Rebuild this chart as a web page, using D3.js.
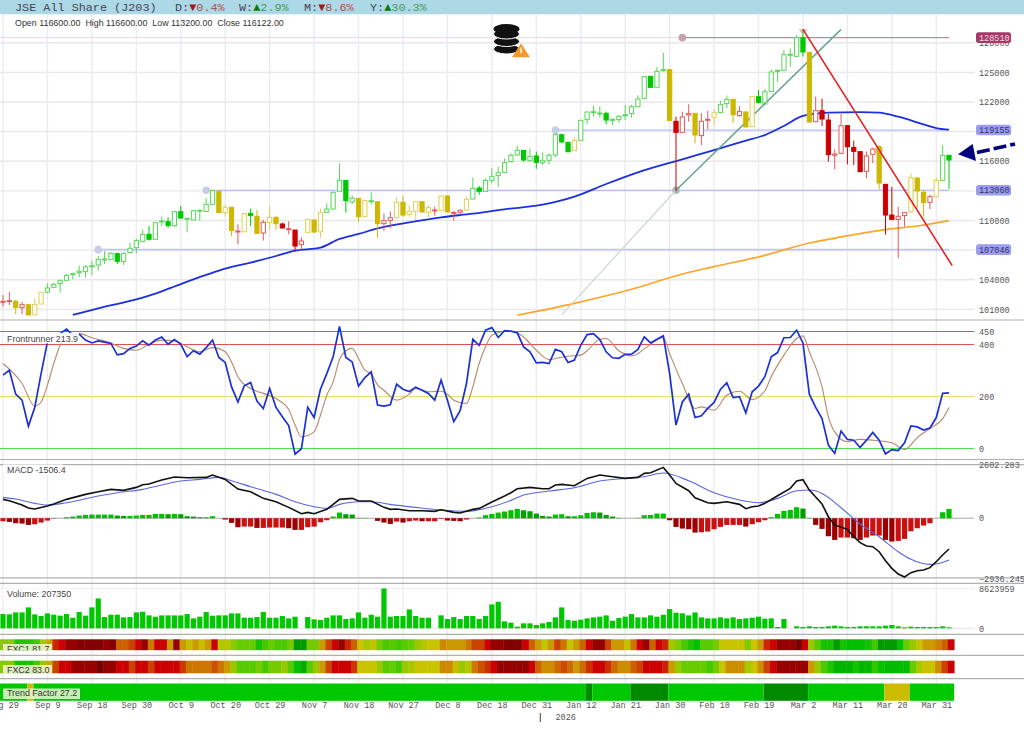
<!DOCTYPE html>
<html>
<head>
<meta charset="utf-8">
<script src="https://cdn.jsdelivr.net/npm/d3@7"></script>
<style>
  html, body { margin: 0; padding: 0; background: #fff; }
  svg { display: block; }
  .mono { font-family: "Liberation Mono", monospace; }
  .sans { font-family: "Liberation Sans", Arial, sans-serif; }
  .axis-label text { font-family: "Liberation Mono", monospace; font-size: 8.5px; fill: #555; }
  .axis-label .domain { display: none; }
</style>
</head>
<body>
<div id="chart"></div>
<script>
const width = 1024;
const height = 735;

// daily bars, oldest first
const highs = [102450,102760,101950,101780,101540,102110,102720,103630,103700,104040,
  104580,104710,105420,105490,105890,106400,106910,106770,106740,106770,
  107750,108160,109100,109440,109810,110380,110320,110960,111470,110220,
  111060,111060,112240,113090,113020,111570,111330,109610,110720,111200,
  111060,110050,111500,110380,109780,109910,109030,108290,110220,110050,
  111230,111730,112920,115790,114060,112540,112270,112070,112850,111940,
  110720,110890,112340,112510,111500,111940,111940,111570,111400,112510,
  112510,110920,111130,112410,114340,113490,114270,115280,115450,116290,
  116800,117570,117130,117270,116970,116870,116800,118820,118720,117980,
  118420,120140,121020,121630,121560,121020,120340,120680,121690,121690,
  122670,124630,124630,125540,126990,125300,120510,121020,121760,120850,
  120850,121090,121290,122130,122640,122270,121560,121020,122570,123210,
  123310,125300,125270,127260,127430,128780,129350,127060,122540,122330,
  120780,117200,120780,119630,118080,117000,116970,117370,117610,113690,
  113390,111400,110860,114770,114340,113090,112610,114340,117640,116600];
const lows = [101270,101440,100530,100500,100430,100430,101540,102620,103130,102690,
  103900,104040,104240,104210,104480,104920,105590,106000,105590,105490,
  106670,106670,107790,107960,108090,109440,109270,109370,110150,108800,
  110050,109980,110820,111600,110720,110380,108430,107580,108800,109440,
  108700,107960,109030,109030,109170,108600,106840,107080,108800,108760,
  108220,110790,111130,112950,110790,111670,109880,110380,111630,108220,
  108930,109200,110220,110380,110380,110050,110820,110150,110490,110960,
  110820,109980,110590,110990,112140,112610,112920,113760,113420,114840,
  115850,116600,115960,115960,115240,115620,115650,116390,117810,116870,
  117070,118080,119770,120510,120410,119730,119670,119900,120170,120410,
  121460,122370,123410,123450,125070,120110,112920,118890,120000,117810,
  117640,119230,119600,120850,121360,119900,120510,119400,119470,121860,
  121860,123010,124060,125170,125570,126590,126590,119940,120000,119570,
  115960,115180,116730,115680,115620,114910,114270,115790,113120,108560,
  110110,106170,109370,110790,111230,110380,111160,112380,114030,113200];
const opens = [101740,101810,101810,101170,101470,100430,101540,102750,103230,103600,
  103940,104510,104710,104820,105390,105490,106030,106030,106640,105830,
  106740,107250,107890,108600,108090,109850,109880,109470,110890,110120,
  110050,110960,110920,111630,112950,110790,111330,108860,108860,110720,
  110420,108730,109810,110320,109640,109100,109030,107580,108800,110050,
  108860,110820,111160,112950,114060,111870,112240,110380,111940,111900,
  109680,110010,110280,111840,110620,110920,111900,110820,110990,110990,
  112480,110750,110820,111060,112170,113290,112950,114060,114540,114870,
  115960,116630,117100,116050,116530,115850,116090,116630,118690,117910,
  117070,118110,120210,120920,120820,120850,120170,120210,120610,120820,
  121520,122370,124600,123480,125170,125270,120040,118920,120680,120850,
  118590,120140,120440,120920,121830,122270,120610,120980,119500,122540,
  121960,123040,125100,125200,126720,126620,128480,127030,120000,121120,
  120170,116600,116800,119600,117400,116970,114970,116700,117470,113660,
  110550,110110,110490,110860,114300,112850,111840,112410,114060,116600];
const closes = [101810,101880,101170,101470,100430,101500,102720,103160,103530,103900,
  104440,104610,104850,105290,105420,106060,106100,106670,105860,106670,
  107180,107960,108600,108090,109780,109950,109470,110890,110250,110220,
  110990,111030,111630,113020,110790,111300,108970,108930,110690,110490,
  108700,109810,110320,109680,109240,109170,107410,107920,110080,108830,
  110790,111160,112850,114060,112000,112240,110380,112000,112000,109680,
  109980,110280,111840,110550,110920,111900,110860,111300,111060,112480,
  110860,110820,111030,112140,113250,112950,114060,114440,114840,115850,
  116600,117100,116120,116490,115890,116050,116600,118720,117950,116970,
  118110,120140,120980,121020,120880,120170,120240,120540,120710,121520,
  122300,124560,123480,125100,125270,120110,118920,120480,120820,118650,
  120040,120240,120920,121730,122270,120710,121020,119470,122540,121960,
  123040,125030,125200,126790,126820,128510,127060,119970,121120,120270,
  116660,116730,119600,117470,117000,114940,116530,117240,113790,110550,
  110110,110420,110790,114340,112990,111800,112410,114060,116600,116122];
const barColors = ("rryryyyggg" + "gggggggggg" + "gggggggggg" + "ggggyyyryg" + "yryyrrrryy" +
  "ygggggyygy" + "rryyyyyyry" + "yrrygggggg" + "gggggggggg" + "yggggggggg" +
  "gggggyrrry" + "rryggyryyg" + "gggggggyrr" + "rrrrrrrryr" + "rrryyyrygg").split("");

const priceTicks = [101000,104000,107000,110000,113000,116000,119000,122000,125000,128000];
const levels = [128510,119155,113060,107046];
const levelStartBar = [107,87,32,15];

// 50 and 200 day averages, read at these bars
const maFastBars = [11,15,21,24,28,32,35,39,43,46,50,53,56,59,64,69,74,79,85,90,95,100,107,112,117,120,123,126,130,135,138,141,145,147,149];
const maFastVals = [100430,101100,102010,102590,103560,104480,105120,105730,106400,106940,107250,108130,108630,109200,109810,110320,110690,111130,111600,112410,113690,114870,116190,117130,118080,118650,119570,120580,120920,120980,120920,120510,119730,119360,119190];
const maSlowBars = [81,90,99,107,112,120,127,132,139,144,149];
const maSlowVals = [100400,101610,103030,104580,105320,106470,107720,108330,109070,109440,109980];

// trend lines as [bar, price] pairs
const trendGreen = [[106,113060],[132,129350]];
const trendGrey = [[88,100430],[106,113060]];
const trendRed = [[126,129350],[149.5,105430]];
const pivotBars = [15,32,87,107,106,120,138,126];
const pivotPrices = [107046,113060,119155,128510,113060,122000,117100,129350];
const pivotColors = ["#c9cbe8","#c9cbe8","#c9cbe8","#c9a0b0","#a9bdbd","#d8e0d8","#f0d0c8","#f0c0c0"];

const frontrunner = [282,301,209,186,86,158,288,410,429,442,
  459,436,440,417,406,414,409,404,360,365,
  385,394,414,397,417,429,401,419,401,353,
  376,363,388,417,350,331,237,179,241,254,
  182,154,231,158,122,88,-22,-1,158,119,
  228,288,353,470,350,333,240,273,295,167,
  163,168,247,228,219,236,224,212,186,263,
  186,103,145,250,420,397,455,465,427,453,
  451,445,391,372,329,331,327,381,372,331,
  340,397,438,442,419,372,349,347,362,363,
  381,429,406,420,433,288,90,179,209,119,
  126,154,177,227,253,196,199,137,218,240,
  276,353,369,426,427,455,406,209,158,115,
  13,-19,67,35,32,4,32,62,32,-21,
  -4,-8,22,87,83,71,79,119,212,214];
const frBrownBars = [0,3,5,6,7,8,9,10,12,14,17,19,21,23,25,27,29,31,33,35,36,37,39,41,43,45,46,47,49,50,51,52,53,54,55,56,57,58,59,60,62,64,65,67,69,70,71,73,74,75,76,77,80,82,84,86,87,89,91,92,94,95,97,99,100,102,104,105,107,109,110,112,114,116,118,120,121,123,125,126,127,129,130,131,133,135,137,140,142,144,146,148,149];
const frBrownVals = [327,250,163,179,244,327,397,433,442,426,406,385,378,401,417,414,391,372,388,372,333,276,231,212,192,150,90,45,64,128,205,256,342,376,385,346,301,288,244,224,186,209,231,218,220,209,186,173,237,327,391,436,453,429,378,342,346,355,359,376,420,423,376,356,365,401,427,365,250,154,160,147,205,220,188,222,276,359,423,433,372,237,122,64,26,35,32,22,-4,42,77,115,158];
const frLevels = [450,400,200,0];
const frLevelColors = ["#e25050","#e25050","#ecdc6a","#55dd55"];

const macdBars = [0,1,3,4,5,7,8,10,13,15,17,19,21,22,23,25,27,29,32,33,35,37,39,41,43,45,47,48,49,51,53,55,56,58,60,61,62,64,66,68,69,71,72,74,75,77,79,80,81,83,85,86,87,88,90,92,94,96,98,100,101,102,104,105,106,108,109,111,112,114,116,117,118,119,120,122,124,125,126,127,129,130,131,133,134,135,136,137,138,139,140,141,142,143,144,145,146,147,148,149];
const macdVals = [922,857,645,498,450,596,694,922,1166,1297,1411,1362,1508,1639,1671,1867,2013,1981,1997,2111,1899,1427,1297,971,808,531,222,287,222,433,922,971,841,841,531,433,450,368,368,336,417,287,254,433,482,792,1085,1248,1443,1508,1443,1443,1622,1655,1590,1948,2111,2030,1948,1997,2193,2225,2486,2111,1704,1346,1003,759,727,808,678,466,564,596,727,1101,1460,1818,1883,1378,694,75,-332,-544,-902,-1196,-1359,-1391,-1636,-2075,-2450,-2727,-2874,-2662,-2564,-2531,-2417,-2124,-1798,-1506];
const signalBars = [0,2,5,7,10,15,18,22,25,28,31,34,36,39,43,46,49,51,53,56,58,61,65,69,73,77,80,82,86,90,94,98,101,104,108,112,116,119,122,125,127,129,132,135,138,141,143,146,147,149];
const signalVals = [1020,938,727,645,759,1085,1248,1411,1622,1818,1899,1997,1834,1541,1166,808,564,482,678,808,808,678,531,401,336,564,873,1134,1329,1492,1818,1948,2030,2209,1834,1248,889,759,971,1346,1378,1215,515,-283,-902,-1636,-2010,-2254,-2238,-2043];
const macdHist = [-147,-179,-245,-261,-326,-293,-212,-114,-16,0,
  49,82,130,163,179,179,179,179,130,114,
  114,130,163,163,212,212,196,212,196,98,
  82,49,49,98,0,-65,-228,-440,-408,-408,
  -473,-473,-456,-456,-456,-489,-571,-571,-440,-408,
  -196,-98,82,277,196,179,16,16,0,-130,
  -212,-277,-163,-212,-147,-114,-147,-147,-147,-33,
  -114,-130,-147,-65,0,33,147,212,277,326,
  391,456,391,342,228,114,82,179,196,98,
  98,147,261,293,277,163,82,16,0,0,
  16,147,163,228,228,-98,-424,-505,-538,-701,
  -685,-652,-538,-424,-326,-326,-326,-408,-293,-196,
  -98,49,212,359,408,538,473,16,-326,-522,
  -880,-1060,-945,-945,-978,-1060,-945,-848,-848,-1060,
  -1141,-1108,-1011,-636,-489,-359,-245,0,293,456];

const volumes = [3090200,3018400,3449600,3449600,4527600,3018400,2659000,3234000,2946500,2730900,
  3090200,2299700,3521400,2730900,4527600,6467900,2443400,2946500,2946500,2371600,
  2443400,3449600,3593300,2802800,2515300,2802800,2802800,2802800,2802800,3090200,
  2156000,2515300,3521400,2730900,2802800,2802800,3234000,3234000,2299700,2299700,
  2443400,3521400,2299700,2299700,2659000,2156000,2515300,0,2443400,1940400,
  1796700,2299700,2802800,2802800,2012200,2156000,3449600,2299700,2946500,2515300,
  8623959,2515300,2659000,2659000,4096400,2659000,2299700,2299700,0,2802800,
  2012200,2443400,2012200,2659000,2659000,2012200,2659000,5174400,5749300,1509200,
  1221700,359300,1078000,1078000,718700,1078000,1365500,2371600,4527600,1796700,
  1652900,1868500,2156000,2371600,2515300,2802800,1652900,2227800,2515300,3090200,
  2371600,2371600,2802800,2515300,2946500,4168200,3377700,3234000,2802800,3449600,
  2371600,2156000,2156000,2371600,2156000,2371600,2012200,2156000,2299700,2515300,
  2084100,2156000,287500,2012200,0,431200,287500,431200,287500,287500,
  431200,574900,431200,287500,287500,431200,431200,431200,431200,574900,
  718700,431200,215600,359300,287500,287500,287500,287500,431200,207350];

// heat strips: low is green, high is dark red
const fxc1 = [35,35,20,20,20,25,40,50,74,82,
  93,93,97,97,97,97,93,97,62,62,
  68,82,93,58,82,82,52,93,52,46,
  52,46,52,82,42,42,36,30,30,30,
  18,25,30,26,26,32,5,5,32,32,
  52,68,82,93,74,62,45,40,44,32,
  26,28,25,28,30,38,42,45,45,55,
  52,52,52,58,68,68,82,93,93,97,
  97,97,82,62,52,44,52,68,58,45,
  52,62,82,93,93,68,52,52,46,58,
  82,93,62,82,74,40,34,26,20,15,
  28,28,32,45,45,45,45,34,45,52,
  74,82,93,93,93,100,82,38,28,18,
  18,5,18,15,15,15,18,25,5,5,
  5,15,30,38,44,52,52,56,62,81.7];
const fxc2 = [35,35,18,18,18,25,38,50,68,82,
  82,92,92,92,92,100,93,93,82,82,
  68,82,82,68,82,82,82,82,70,58,
  58,58,58,65,58,52,38,28,28,28,
  32,25,32,32,38,28,15,10,28,38,
  52,68,82,82,82,70,45,45,45,38,
  28,30,25,38,40,45,45,45,45,55,
  55,46,38,42,58,65,72,82,93,93,
  93,93,93,82,62,54,54,60,66,60,
  52,60,72,82,82,72,60,54,54,62,
  68,82,82,82,75,52,38,30,30,30,
  30,25,32,45,54,54,54,40,45,54,
  68,82,92,92,92,92,92,52,38,26,
  20,12,12,12,18,12,12,22,16,14,
  14,14,14,30,40,45,45,54,68,83];
const heatStops = [0,15,30,45,55,65,82,92,100];
const heatColors = ["#008800","#00c000","#66cc00","#c8c400","#cc8800","#cc5000","#cc0000","#990000","#770000"];

const trendSegStart = [0,4,5,92,93,99,105,120,127,139,143];
const trendSegState = ["g","y","g","d","g","d","g","d","g","y","g"];

const dateBars = d3.range(0, 148, 7);
const dateLabels = ["Aug 29","Sep 9","Sep 18","Sep 30","Oct 9","Oct 20","Oct 29","Nov 7","Nov 18","Nov 27","Dec 8","Dec 18","Dec 31","Jan 12","Jan 21","Jan 30","Feb 10","Feb 19","Mar 2","Mar 11","Mar 20","Mar 31"];

const fillColor = { g: "#00c800", y: "#ccb800", r: "#cc0000" };
const hollowColor = { g: "#55d855", y: "#e0d050", r: "#e05a5a" };

const svg = d3.select("#chart").append("svg")
  .attr("width", width)
  .attr("height", height)
  .attr("viewBox", `0 0 ${width} ${height}`);

const x = d3.scaleLinear().domain([0, 149]).range([3, 949]);
const yMain = d3.scaleLinear().domain([101000, 125000]).range([309.33, 72.33]);
const yFr = d3.scaleLinear().domain([0, 450]).range([448.5, 331.5]);
const yMacd = d3.scaleLinear().domain([-2936.245, 2602.283]).range([578.3, 465]);
const yVol = d3.scaleLinear().domain([0, 8623959]).range([628.3, 588.5]);
const heat = d3.scaleLinear().domain(heatStops).range(heatColors);

const defs = svg.append("defs");
function addClip(id, y0, y1) {
  defs.append("clipPath").attr("id", id).append("rect")
    .attr("x", 0).attr("y", y0).attr("width", width).attr("height", y1 - y0);
}
addClip("clip-main", 29, 318);
addClip("clip-fxc1", 639, 650.5);
addClip("clip-fxc2", 660.5, 673.5);

// header band
svg.append("rect").attr("width", width).attr("height", 14.3).attr("fill", "#add8e6");
const header = svg.append("text").attr("class", "mono").attr("y", 11)
  .style("font-size", "11.8px").attr("fill", "#445");
header.append("tspan").attr("x", 15).text("JSE All Share (J203)");
const changes = [["D:", "▼", "0.4%", 175], ["W:", "▲", "2.9%", 239], ["M:", "▼", "8.6%", 304], ["Y:", "▲", "30.3%", 370]];
changes.forEach(c => {
  const up = c[1] === "▲";
  header.append("tspan").attr("x", c[3]).text(c[0]);
  header.append("tspan").attr("x", c[3] + 14.2).attr("fill", up ? "#0a7a0a" : "#a01818").text(c[1]);
  header.append("tspan").attr("x", c[3] + 21.3).attr("fill", up ? "#4a9a5a" : "#b05050").text(c[2]);
});

// grid
svg.append("g").selectAll("line").data(dateBars).enter().append("line")
  .attr("x1", d => x(d)).attr("x2", d => x(d))
  .attr("y1", 15).attr("y2", 683)
  .attr("stroke", "#ececf0").attr("stroke-width", 1.4);
svg.append("g").selectAll("line").data(priceTicks).enter().append("line")
  .attr("x1", 0).attr("x2", 975)
  .attr("y1", d => yMain(d)).attr("y2", d => yMain(d))
  .attr("stroke", "#e8e8e8").attr("stroke-width", 1.4);

// panel separators
[320, 459.5, 464.7, 577.8, 583.3, 634.3, 655.3, 678.7].forEach(yy => {
  svg.append("line").attr("x1", 0).attr("x2", width).attr("y1", yy).attr("y2", yy)
    .attr("stroke", "#b0b0b0").attr("stroke-width", 1.2);
});

// price axis labels
svg.append("g").attr("class", "axis-label")
  .attr("transform", "translate(979,0)")
  .call(d3.axisRight(yMain).tickValues(priceTicks).tickSize(0).tickPadding(0).tickFormat(d3.format("d")));

const main = svg.append("g").attr("clip-path", "url(#clip-main)");

// support and resistance levels
main.append("line").attr("x1", 0).attr("x2", x(107))
  .attr("y1", yMain(128510)).attr("y2", yMain(128510))
  .attr("stroke", "#f0d8d8").attr("stroke-width", 1);
main.selectAll(".level").data(levels).enter().append("line")
  .attr("class", "level")
  .attr("x1", (d, i) => x(levelStartBar[i])).attr("x2", x(149))
  .attr("y1", d => yMain(d)).attr("y2", d => yMain(d))
  .attr("stroke", (d, i) => i === 0 ? "#b07088" : (i === 3 ? "#c0c4fa" : "#a8acf8"))
  .attr("stroke-width", (d, i) => i === 3 ? 1.6 : 1);

main.selectAll(".pivot").data(pivotBars).enter().append("circle")
  .attr("class", "pivot")
  .attr("cx", d => x(d))
  .attr("cy", (d, i) => yMain(pivotPrices[i]))
  .attr("r", 3.8)
  .attr("fill", (d, i) => pivotColors[i]);

// moving averages
const lineFromPairs = d3.line().x(d => x(d[0])).y(d => yMain(d[1]));
const smoothPairs = d3.line().x(d => x(d[0])).y(d => yMain(d[1])).curve(d3.curveMonotoneX);
main.append("path").datum(d3.zip(maSlowBars, maSlowVals))
  .attr("d", smoothPairs).attr("fill", "none")
  .attr("stroke", "#ffa428").attr("stroke-width", 1.7);
main.append("path").datum(d3.zip(maFastBars, maFastVals))
  .attr("d", smoothPairs).attr("fill", "none")
  .attr("stroke", "#1c30e0").attr("stroke-width", 1.8);

main.append("path").datum(trendGrey).attr("d", lineFromPairs)
  .attr("fill", "none").attr("stroke", "#ccd6d6").attr("stroke-width", 1.2);
main.append("path").datum(trendGreen).attr("d", lineFromPairs)
  .attr("fill", "none").attr("stroke", "#5f9f8c").attr("stroke-width", 1.4);

// candles
const bars = d3.range(highs.length);
main.selectAll(".wick").data(bars).enter().append("line")
  .attr("class", "wick")
  .attr("x1", d => x(d)).attr("x2", d => x(d))
  .attr("y1", d => yMain(highs[d])).attr("y2", d => yMain(lows[d]))
  .attr("stroke", d => closes[d] < opens[d] ? fillColor[barColors[d]] : hollowColor[barColors[d]])
  .attr("stroke-width", 1);
main.selectAll(".body").data(bars).enter().append("rect")
  .attr("class", "body")
  .attr("x", d => x(d) - 2.1)
  .attr("width", 4.2)
  .attr("y", d => yMain(Math.max(opens[d], closes[d])))
  .attr("height", d => Math.max(1, Math.abs(yMain(opens[d]) - yMain(closes[d]))))
  .attr("fill", d => closes[d] < opens[d] ? fillColor[barColors[d]] : "#fff")
  .attr("stroke", d => closes[d] < opens[d] ? fillColor[barColors[d]] : hollowColor[barColors[d]])
  .attr("stroke-width", 1);

main.append("path").datum(trendRed).attr("d", lineFromPairs)
  .attr("fill", "none").attr("stroke", "#e02424").attr("stroke-width", 1.6);

// level tags on the right
levels.forEach((lv, i) => {
  const yy = yMain(lv);
  svg.append("rect").attr("x", 976).attr("y", yy - 5.3).attr("width", 35).attr("height", 10.6)
    .attr("rx", 2.5).attr("fill", i === 0 ? "#a83868" : "#9c9cf0");
  svg.append("text").attr("class", "mono").attr("x", 979).attr("y", yy + 3)
    .style("font-size", "8.5px").attr("fill", i === 0 ? "#e8d8e0" : "#333366").text(lv);
});

// data warning icon, stacked discs with a warning triangle
const icon = svg.append("g");
[49, 41.5, 34, 29].forEach((cy, i) => {
  icon.append("ellipse").attr("cx", 506.5).attr("cy", cy).attr("rx", 13).attr("ry", 5)
    .attr("fill", "#111").attr("stroke", "#fff").attr("stroke-width", i === 3 ? 0 : 1);
});
icon.append("path").attr("d", "M521,43.3L530,57.3H512Z").attr("fill", "#f59a30");
icon.append("path").attr("d", "M521,47.5V53").attr("stroke", "#fff4d0").attr("stroke-width", 1.6);

// big arrow at the last bar
svg.append("path").attr("d", "M958,154.3L972.7,144L976,161Z").attr("fill", "#000080");
svg.append("path").attr("d", "M977,152.5L1015,144")
  .attr("stroke", "#000080").attr("stroke-width", 3.6).attr("stroke-dasharray", "13,4").attr("fill", "none");

// quote line
svg.append("text").attr("class", "sans").attr("x", 15).attr("y", 25.8)
  .style("font-size", "8.9px").attr("fill", "#333")
  .text("Open 116600.00  High 116600.00  Low 113200.00  Close 116122.00").attr("xml:space", "preserve");

// Frontrunner panel
frLevels.forEach((lv, i) => {
  svg.append("line").attr("x1", 0).attr("x2", 974)
    .attr("y1", yFr(lv)).attr("y2", yFr(lv))
    .attr("stroke", frLevelColors[i]).attr("stroke-width", 1.1);
});
svg.append("g").attr("class", "axis-label")
  .attr("transform", "translate(979,0)")
  .call(d3.axisRight(yFr).tickValues(frLevels).tickSize(0).tickPadding(0));

const frLine = d3.line().x(d => x(d[0])).y(d => yFr(d[1]));
svg.append("path").datum(d3.zip(frBrownBars, frBrownVals)).attr("d", frLine.curve(d3.curveMonotoneX))
  .attr("fill", "none").attr("stroke", "#b8886a").attr("stroke-width", 1.1);
svg.append("path").datum(bars.map(i => [i, frontrunner[i]])).attr("d", frLine.curve(d3.curveLinear))
  .attr("fill", "none").attr("stroke", "#1c30d8").attr("stroke-width", 1.7);
// panel captions sit on a white plate that hides the lines below them
function panelLabel(txt, yText, w) {
  svg.append("rect").attr("x", 3).attr("y", yText - 8.6).attr("width", w).attr("height", 10.6)
    .attr("fill", "#fff").attr("opacity", 0.92);
  svg.append("text").attr("class", "sans").attr("x", 7).attr("y", yText)
    .style("font-size", "8.9px").attr("fill", "#444").text(txt);
}
panelLabel("Frontrunner 213.9", 341.5, 76);

// MACD panel
svg.append("line").attr("x1", 0).attr("x2", 974)
  .attr("y1", yMacd(0)).attr("y2", yMacd(0))
  .attr("stroke", "#aaa").attr("stroke-width", 1);
svg.selectAll(".hist").data(bars).enter().append("rect")
  .attr("class", "hist")
  .attr("x", d => x(d) - 2.6)
  .attr("width", 5.2)
  .attr("y", d => Math.min(yMacd(0), yMacd(macdHist[d])))
  .attr("height", d => Math.abs(yMacd(macdHist[d]) - yMacd(0)))
  .attr("fill", d => {
    // darker shade when the histogram is falling
    const falling = d > 0 && macdHist[d] < macdHist[d - 1];
    if (macdHist[d] >= 0) return falling ? "#00a000" : "#00c000";
    return falling ? "#9c0000" : "#cc1010";
  });
const macdLine = d3.line().x(d => x(d[0])).y(d => yMacd(d[1]));
svg.append("path").datum(d3.zip(signalBars, signalVals)).attr("d", macdLine.curve(d3.curveMonotoneX))
  .attr("fill", "none").attr("stroke", "#5a66e0").attr("stroke-width", 1.1);
svg.append("path").datum(d3.zip(macdBars, macdVals)).attr("d", macdLine.curve(d3.curveLinear))
  .attr("fill", "none").attr("stroke", "#111").attr("stroke-width", 1.6);
panelLabel("MACD -1506.4", 473, 60);
svg.append("g").attr("class", "axis-label")
  .attr("transform", "translate(979,0)")
  .call(d3.axisRight(yMacd).tickValues([-2936.245, 0, 2602.283]).tickSize(0).tickPadding(0)
    .tickFormat(d => d === 0 ? "0" : d3.format(".3f")(d)));

// volume panel
svg.append("line").attr("x1", 0).attr("x2", 974)
  .attr("y1", yVol(0)).attr("y2", yVol(0))
  .attr("stroke", "#e4e4e4").attr("stroke-width", 1);
svg.append("line").attr("x1", 0).attr("x2", 974)
  .attr("y1", yVol(8623959)).attr("y2", yVol(8623959))
  .attr("stroke", "#eeeeee").attr("stroke-width", 1);
svg.selectAll(".vol").data(bars).enter().append("rect")
  .attr("class", "vol")
  .attr("x", d => x(d) - 2.6)
  .attr("width", 5.2)
  .attr("y", d => yVol(volumes[d]))
  .attr("height", d => yVol(0) - yVol(volumes[d]))
  .attr("fill", "#00c800");
panelLabel("Volume: 207350", 597, 68);
svg.append("g").attr("class", "axis-label")
  .attr("transform", "translate(979,0)")
  .call(d3.axisRight(yVol).tickValues([0, 8623959]).tickSize(0).tickPadding(0).tickFormat(d3.format("d")));

// heat strips
function heatRow(values, y0, y1) {
  svg.append("g").selectAll("rect").data(values).enter().append("rect")
    .attr("x", (d, i) => i === 0 ? 0 : x(i) - 1.2)
    .attr("width", (d, i) => i === 0 ? x(1) - 1.2 + 0.4 : x(1) - x(0) + 0.4)
    .attr("y", y0)
    .attr("height", y1 - y0)
    .attr("fill", d => heat(d));
}
heatRow(fxc1, 639.3, 650.2);
heatRow(fxc2, 660.7, 673.3);

function stripLabel(txt, yText, w, bg, clip) {
  const g = svg.append("g");
  if (clip) g.attr("clip-path", `url(#${clip})`);
  g.append("rect").attr("x", 3).attr("y", yText - 7.5).attr("width", w).attr("height", 10.5)
    .attr("fill", bg).attr("opacity", 0.85);
  g.append("text").attr("class", "sans").attr("x", 7).attr("y", yText)
    .style("font-size", "8.9px").attr("fill", "#333").text(txt);
}
stripLabel("FXC1 81.7", 651.5, 49, "#f6f6d8", "clip-fxc1");
stripLabel("FXC2 83.0", 672.5, 49, "#f6f6d8", "clip-fxc2");

// trend factor strip
const trendFill = { g: "#00c800", y: "#ccbc00", d: "#008a00" };
svg.append("g").selectAll("rect").data(trendSegStart).enter().append("rect")
  .attr("x", (d, i) => i === 0 ? 0 : x(d) - 1.2)
  .attr("width", (d, i) => {
    const end = i + 1 < trendSegStart.length ? trendSegStart[i + 1] : 150;
    return x(end) - 1.2 - (i === 0 ? 0 : x(d) - 1.2);
  })
  .attr("y", 683.5)
  .attr("height", 17.3)
  .attr("fill", (d, i) => trendFill[trendSegState[i]]);
stripLabel("Trend Factor 27.2", 696, 77, "#eaf6d4", null);

// date axis
svg.append("g").attr("class", "axis-label")
  .attr("transform", "translate(0,702)")
  .call(d3.axisBottom(x).tickValues(dateBars).tickSize(0).tickPadding(0)
    .tickFormat((d, i) => dateLabels[i]));
svg.append("line").attr("x1", 540.3).attr("x2", 540.3).attr("y1", 713).attr("y2", 722)
  .attr("stroke", "#444").attr("stroke-width", 1);
svg.append("text").attr("class", "mono").attr("x", 555.5).attr("y", 720)
  .style("font-size", "8.5px").attr("fill", "#555").text("2026");
</script>
</body>
</html>
